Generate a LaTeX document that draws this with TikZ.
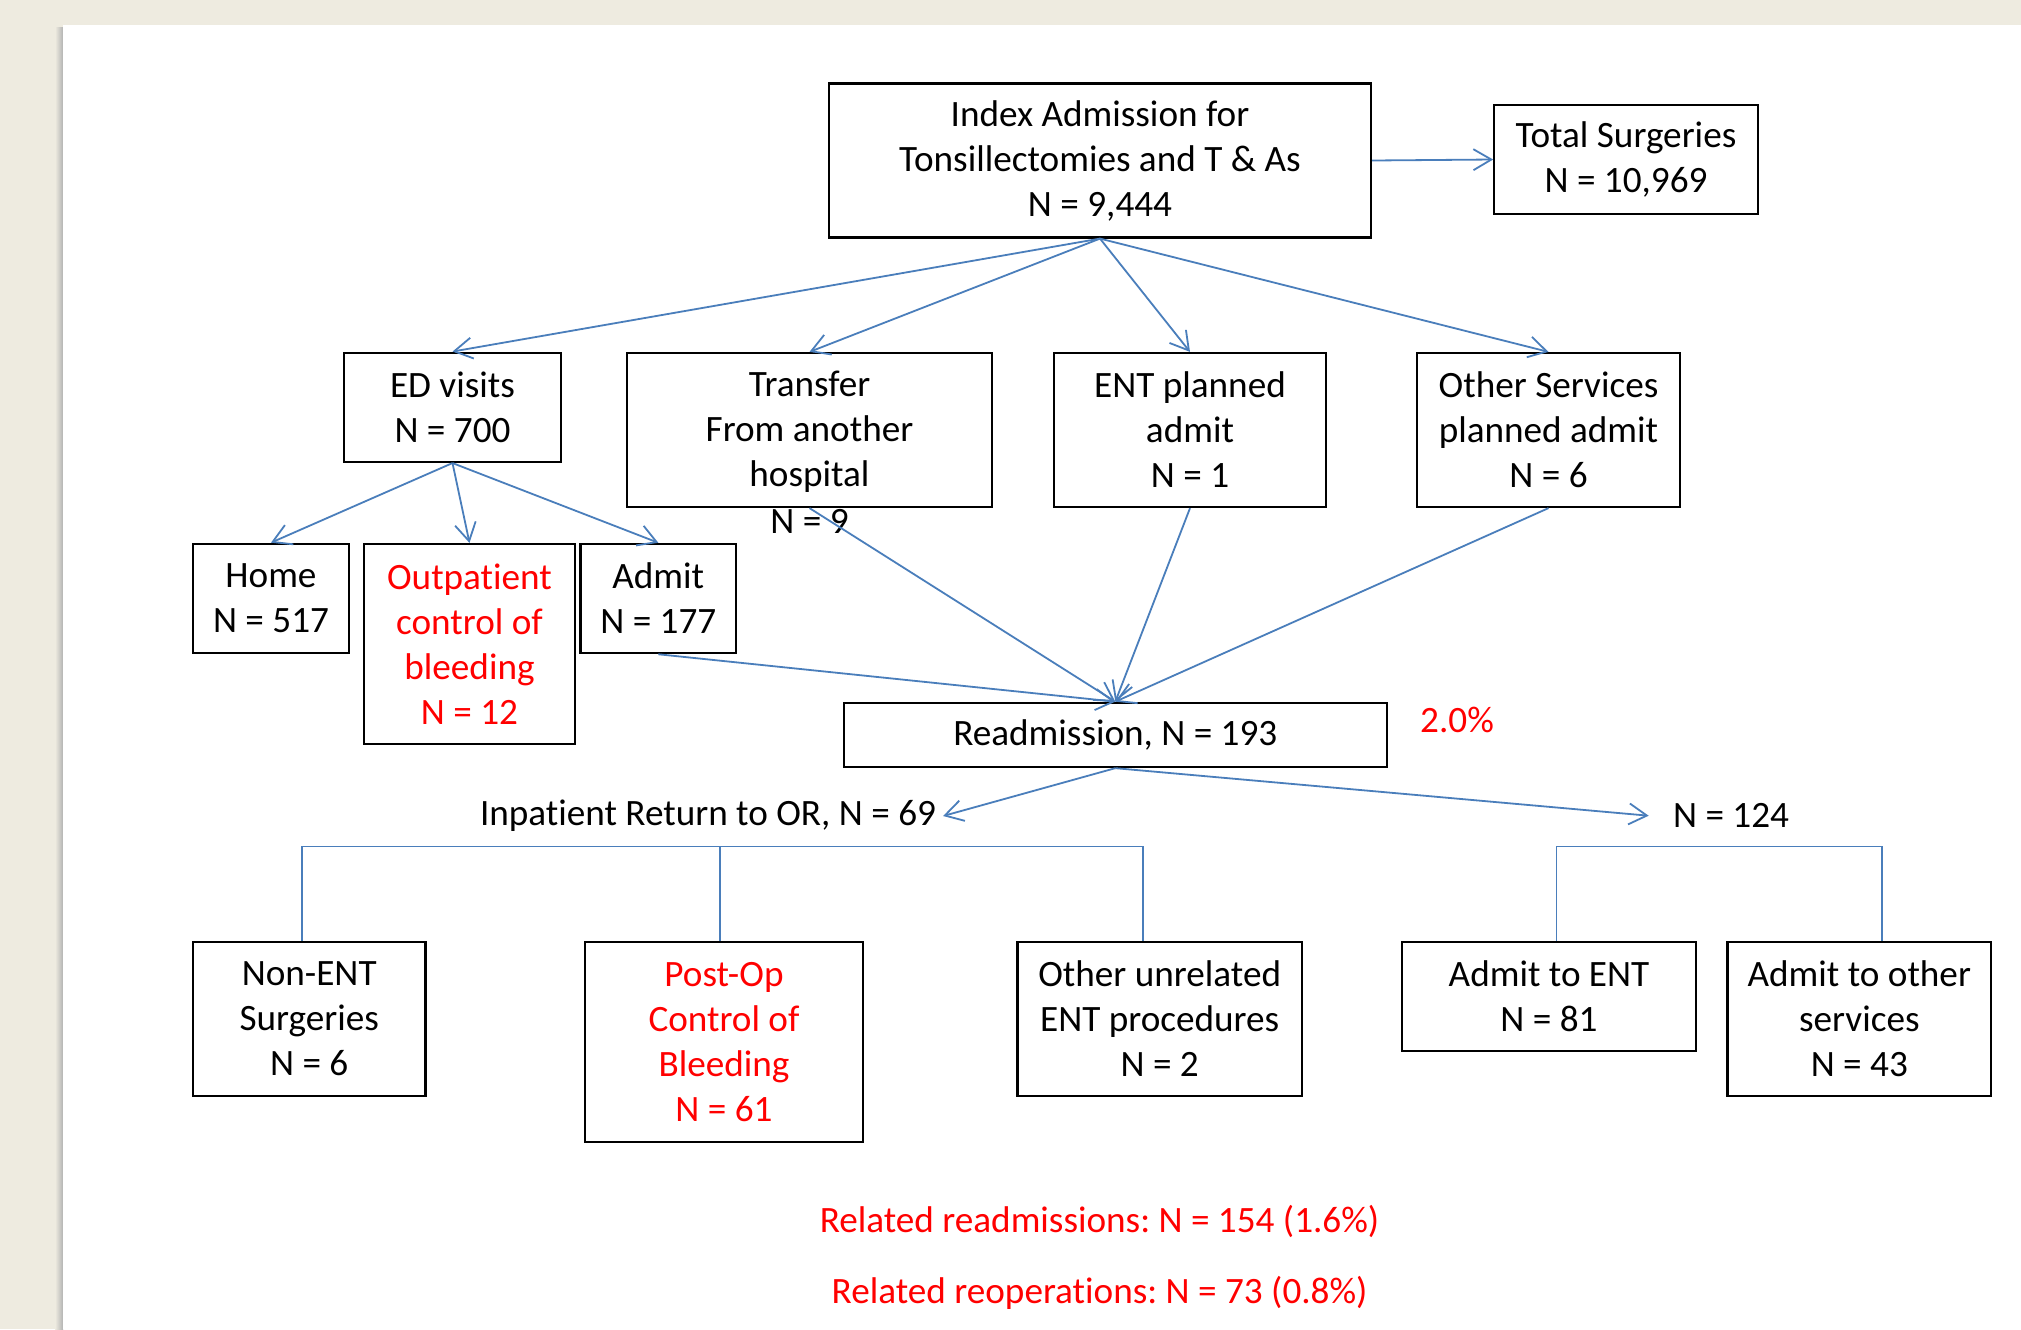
\documentclass[tikz,border=0pt]{standalone}
\usepackage{fontspec}
\setmainfont{Carlito}[Ligatures={NoCommon}]
\usetikzlibrary{arrows.meta,calc}
\definecolor{bgbeige}{RGB}{238,235,224}
\definecolor{lnblue}{RGB}{74,126,187}
\definecolor{txtred}{RGB}{255,0,0}
\frenchspacing
\begin{document}
\begin{tikzpicture}[x=0.5pt,y=-0.5pt,
  every node/.style={font=\fontsize{18.6}{22.5}\selectfont},
  box/.style={draw=black, line width=1.1pt, align=center, inner sep=0pt, fill=white},
  lbl/.style={align=center},
  redtxt/.style={text=txtred},
  conn/.style={draw=lnblue, line width=0.9pt},
  arr/.style={conn, -{Straight Barb[length=9pt,width=10.5pt]}}
]
\useasboundingbox (0,0) rectangle (2021,1329);
% page background
\fill[bgbeige] (0,0) rectangle (2021,1329);
\shade[left color=bgbeige, right color=black!30] (55,27) rectangle (63,1329);
\fill[white] (63,25) rectangle (2021,1329);

% boxes
\node[box, minimum width=271pt, minimum height=77pt] (index) at (1100,160.5) {Index Admission for\\Tonsillectomies and T \& As\\N = 9,444};
\node[box, minimum width=131.75pt, minimum height=54.8pt] (total) at (1626,159.5) {Total Surgeries\\N = 10,969};

\node[box, minimum width=108.5pt, minimum height=54.65pt] (ed) at (452.5,407.3) {ED visits\\N = 700};
\node[box, minimum width=182.5pt, minimum height=77pt] (transfer) at (809.5,430) {\rule{0pt}{14pt}Transfer\\From another\\hospital};
\node[lbl] (transferN) at (809.5,521) {N = 9};
\node[box, minimum width=136.35pt, minimum height=77pt] (ent) at (1190,430) {ENT planned\\admit\\N = 1};
\node[box, minimum width=131.5pt, minimum height=77pt] (other) at (1548.5,430) {Other Services\\planned admit\\N = 6};

\node[box, minimum width=78pt, minimum height=54.65pt] (home) at (271,598.4) {Home\\N = 517};
\node[box, redtxt, minimum width=105.5pt, minimum height=100pt] (outpat) at (469.5,644) {Outpatient\\control of\\bleeding\\N = 12};
\node[box, minimum width=77.75pt, minimum height=54.65pt] (admit) at (658.3,598.5) {Admit\\N = 177};

\node[box, minimum width=271.3pt, minimum height=32.15pt] (readm) at (1115.3,734.9) {Readmission, N = 193};
\node[lbl, redtxt] (pct) at (1457,720) {2.0\%};

\node[lbl] (inpat) at (708,816) {Inpatient Return to OR, N = 69};
\node[lbl, inner sep=12pt] (n124) at (1731,815.7) {N = 124};

\node[box, minimum width=116.35pt, minimum height=77.15pt] (nonent) at (309.2,1018.9) {Non-ENT\\Surgeries\\N = 6};
\node[box, redtxt, minimum width=139pt, minimum height=100.15pt] (postop) at (724,1041.9) {Post-Op\\Control of\\Bleeding\\N = 61};
\node[box, minimum width=142.3pt, minimum height=77.15pt] (otherun) at (1159.7,1018.9) {Other unrelated\\ENT procedures\\N = 2};
\node[box, minimum width=147pt, minimum height=54.5pt] (admitent) at (1549,996.2) {Admit to ENT\\N = 81};
\node[box, minimum width=131.75pt, minimum height=77.15pt] (admitoth) at (1859.3,1018.9) {Admit to other\\services\\N = 43};

\node[lbl, redtxt] (rel1) at (1099.5,1221.7) {Related readmissions: N = 154 (1.6\%)};
\node[lbl, redtxt] (rel2) at (1099.6,1293) {Related reoperations: N = 73 (0.8\%)};

% connectors
\draw[arr] (index.east) -- (total.west);
\draw[arr] (index.south) -- (ed.north);
\draw[arr] (index.south) -- (transfer.north);
\draw[arr] (index.south) -- (ent.north);
\draw[arr] (index.south) -- (other.north);

\draw[arr] (ed.south) -- (home.north);
\draw[arr] (ed.south) -- (outpat.north);
\draw[arr] (ed.south) -- (admit.north);

\draw[arr] (admit.south) -- (readm.north);
\draw[arr] (transfer.south) -- (readm.north);
\draw[arr] (ent.south) -- (readm.north);
\draw[arr] (other.south) -- (readm.north);

\draw[arr] (readm.south) -- (inpat.east);
\draw[arr] (readm.south) -- (n124.west);

% brackets
\coordinate (bA) at (302,846.5);
\coordinate (bB) at (720,846.5);
\coordinate (bC) at (1143,846.5);
\coordinate (bD) at (1556.5,846.5);
\coordinate (bE) at (1882,846.5);
\draw[conn] (bA |- nonent.north) -- (bA) -- (bC) -- (bC |- otherun.north);
\draw[conn] (bB) -- (bB |- postop.north);
\draw[conn] (bD |- admitent.north) -- (bD) -- (bE) -- (bE |- admitoth.north);
\end{tikzpicture}
\end{document}
